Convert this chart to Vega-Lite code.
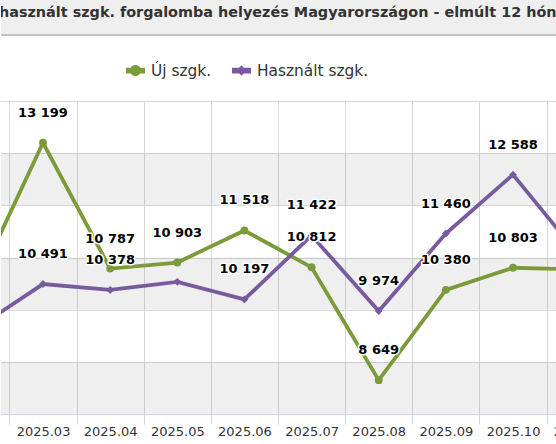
{
  "$schema": "https://vega.github.io/schema/vega-lite/v6.json",
  "padding": {"left": 0, "top": 0, "right": 0, "bottom": 30},
  "spacing": 66,
  "bounds": "flush",
  "config": {
    "view": {"stroke": null},
    "font": "DejaVu Sans",
    "locale": {"number": {"decimal": ",", "thousands": " ", "grouping": [3], "currency": ["", " Ft"]}}
  },
  "datasets": {
    "sales": [
      {"month": "2025.02", "idx": 2, "series": "Új szgk.", "value": 10449},
      {"month": "2025.03", "idx": 3, "series": "Új szgk.", "value": 13199},
      {"month": "2025.04", "idx": 4, "series": "Új szgk.", "value": 10787},
      {"month": "2025.05", "idx": 5, "series": "Új szgk.", "value": 10903},
      {"month": "2025.06", "idx": 6, "series": "Új szgk.", "value": 11518},
      {"month": "2025.07", "idx": 7, "series": "Új szgk.", "value": 10812},
      {"month": "2025.08", "idx": 8, "series": "Új szgk.", "value": 8649},
      {"month": "2025.09", "idx": 9, "series": "Új szgk.", "value": 10380},
      {"month": "2025.10", "idx": 10, "series": "Új szgk.", "value": 10803},
      {"month": "2025.11", "idx": 11, "series": "Új szgk.", "value": 10770},
      {"month": "2025.02", "idx": 2, "series": "Használt szgk.", "value": 9632},
      {"month": "2025.03", "idx": 3, "series": "Használt szgk.", "value": 10491},
      {"month": "2025.04", "idx": 4, "series": "Használt szgk.", "value": 10378},
      {"month": "2025.05", "idx": 5, "series": "Használt szgk.", "value": 10533},
      {"month": "2025.06", "idx": 6, "series": "Használt szgk.", "value": 10197},
      {"month": "2025.07", "idx": 7, "series": "Használt szgk.", "value": 11422},
      {"month": "2025.08", "idx": 8, "series": "Használt szgk.", "value": 9974},
      {"month": "2025.09", "idx": 9, "series": "Használt szgk.", "value": 11460},
      {"month": "2025.10", "idx": 10, "series": "Használt szgk.", "value": 12588},
      {"month": "2025.11", "idx": 11, "series": "Használt szgk.", "value": 11011}
    ],
    "bands": [
      {"from": 13000, "to": 12000},
      {"from": 11000, "to": 10000},
      {"from": 9000, "to": 8000}
    ],
    "heading": [
      {"title": "Új és használt szgk. forgalomba helyezés Magyarországon - elmúlt 12 hónap"}
    ]
  },
  "vconcat": [
    {
      "width": 556,
      "height": 35,
      "view": {"fill": "#efefef", "stroke": null},
      "data": {"name": "heading"},
      "layer": [
        {
          "mark": {"type": "rule", "color": "#c4c4c4", "strokeWidth": 2},
          "encoding": {
            "y": {"datum": 0, "type": "quantitative", "scale": {"domain": [0, 1]}, "axis": null}
          }
        },
        {
          "mark": {"type": "text", "clip": true, "align": "left", "baseline": "middle", "dx": -47, "fontSize": 14.4, "fontWeight": "bold", "color": "#333333"},
          "encoding": {
            "x": {"datum": 0, "type": "quantitative", "scale": {"domain": [0, 1]}, "axis": null},
            "y": {"datum": 0.63, "type": "quantitative", "scale": {"domain": [0, 1]}, "axis": null},
            "text": {"field": "title"}
          }
        }
      ]
    },
    {
      "width": 556,
      "height": 313,
      "layer": [
        {
          "data": {"name": "bands"},
          "mark": {"type": "rect", "color": "#000000", "opacity": 0.063},
          "encoding": {
            "y": {
              "field": "from", "type": "quantitative",
              "scale": {"domain": [8000, 14000], "nice": false, "zero": false},
              "axis": {"values": [8000, 9000, 10000, 11000, 12000, 13000, 14000], "grid": true, "gridColor": "#d8d8d8", "labels": false, "ticks": false, "domain": false, "title": null}
            },
            "y2": {"field": "to"}
          }
        },
        {
          "data": {"name": "sales"},
          "mark": {"type": "line", "strokeWidth": 3.8, "clip": true},
          "encoding": {
            "x": {
              "field": "idx", "type": "quantitative",
              "scale": {"domain": [2.3745, 10.6553], "nice": false, "zero": false},
              "axis": {
                "title": null,
                "values": [2.5, 3.5, 4.5, 5.5, 6.5, 7.5, 8.5, 9.5, 10.5],
                "grid": true,
                "gridColor": "#d8d8d8",
                "tickColor": "#ccd6eb",
                "tickSize": 10,
                "domainColor": "#ccd6eb",
                "labelExpr": "'2025.' + format(datum.value + 0.5, '02d')",
                "labelOffset": 33.6,
                "labelAlign": "center",
                "labelFlush": false,
                "labelOverlap": false,
                "labelBound": false,
                "labelPadding": 1,
                "labelFontSize": 13,
                "labelColor": "#333333"
              }
            },
            "y": {"field": "value", "type": "quantitative", "scale": {"domain": [8000, 14000], "nice": false, "zero": false}},
            "color": {
              "field": "series", "type": "nominal",
              "scale": {"domain": ["Új szgk.", "Használt szgk."], "range": ["#7b9b3b", "#785b9e"]},
              "legend": {
                "title": null,
                "orient": "none",
                "legendX": 125,
                "legendY": 61,
                "direction": "horizontal",
                "labelFontSize": 15.4,
                "labelColor": "#333333",
                "labelOffset": 6,
                "columnPadding": 20,
                "symbolSize": 361,
                "symbolStrokeWidth": 0
              }
            }
          }
        },
        {
          "data": {"name": "sales"},
          "transform": [{"filter": "false"}],
          "mark": {"type": "point", "filled": true, "opacity": 1},
          "encoding": {
            "x": {"field": "idx", "type": "quantitative"},
            "y": {"field": "value", "type": "quantitative"},
            "color": {"field": "series", "type": "nominal"},
            "shape": {
              "field": "series", "type": "nominal",
              "scale": {
                "domain": ["Új szgk.", "Használt szgk."],
                "range": [
                  "M-1,-0.3H1V0.3H-1Z M-0.58,0A0.58,0.58,0,1,1,0.58,0A0.58,0.58,0,1,1,-0.58,0Z",
                  "M-1,-0.3H1V0.3H-1Z M0,-0.55L0.55,0L0,0.55L-0.55,0Z"
                ]
              }
            }
          }
        },
        {
          "data": {"name": "sales"},
          "transform": [{"filter": "datum.series === 'Új szgk.'"}],
          "mark": {"type": "point", "shape": "circle", "filled": true, "opacity": 1, "size": 62, "clip": true},
          "encoding": {
            "x": {"field": "idx", "type": "quantitative"},
            "y": {"field": "value", "type": "quantitative"},
            "color": {"field": "series", "type": "nominal"}
          }
        },
        {
          "data": {"name": "sales"},
          "transform": [{"filter": "datum.series === 'Használt szgk.'"}],
          "mark": {"type": "point", "shape": "diamond", "filled": true, "opacity": 1, "size": 62, "clip": true},
          "encoding": {
            "x": {"field": "idx", "type": "quantitative"},
            "y": {"field": "value", "type": "quantitative"},
            "color": {"field": "series", "type": "nominal"}
          }
        },
        {
          "data": {"name": "sales"},
          "transform": [{"filter": "datum.idx < 11 && !(datum.month === '2025.05' && datum.series === 'Használt szgk.')"}],
          "mark": {"type": "text", "clip": true, "dy": -30, "baseline": "middle", "fontSize": 13, "fontWeight": "bold", "fill": "#ffffff", "stroke": "#ffffff", "strokeWidth": 3, "strokeJoin": "round"},
          "encoding": {
            "x": {"field": "idx", "type": "quantitative"},
            "y": {"field": "value", "type": "quantitative"},
            "text": {"field": "value", "type": "quantitative", "format": ",d"}
          }
        },
        {
          "data": {"name": "sales"},
          "transform": [{"filter": "datum.idx < 11 && !(datum.month === '2025.05' && datum.series === 'Használt szgk.')"}],
          "mark": {"type": "text", "clip": true, "dy": -30, "baseline": "middle", "fontSize": 13, "fontWeight": "bold", "fill": "#000000"},
          "encoding": {
            "x": {"field": "idx", "type": "quantitative"},
            "y": {"field": "value", "type": "quantitative"},
            "text": {"field": "value", "type": "quantitative", "format": ",d"}
          }
        }
      ]
    }
  ]
}
